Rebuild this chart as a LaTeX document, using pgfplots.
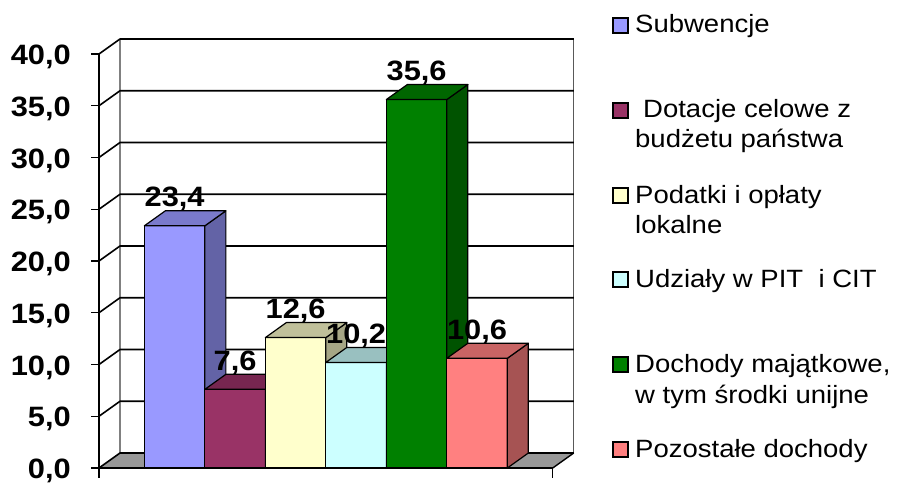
\documentclass[border=0pt]{standalone}
\usepackage{pgfplots}
\pgfplotsset{compat=1.18}
\usepackage{fontspec}
\setmainfont{Liberation Sans}[FakeStretch=1.1]

\definecolor{c1}{HTML}{9999FF}\definecolor{c1s}{HTML}{6363A6}\definecolor{c1t}{HTML}{7A7ACC}
\definecolor{c2}{HTML}{993366}\definecolor{c2s}{HTML}{63213F}\definecolor{c2t}{HTML}{772650}
\definecolor{c3}{HTML}{FFFFCC}\definecolor{c3s}{HTML}{A6A685}\definecolor{c3t}{HTML}{C0C09A}
\definecolor{c4}{HTML}{CCFFFF}\definecolor{c4s}{HTML}{85A6A6}\definecolor{c4t}{HTML}{99C0C0}
\definecolor{c5}{HTML}{008000}\definecolor{c5s}{HTML}{005300}\definecolor{c5t}{HTML}{006600}
\definecolor{c6}{HTML}{FF8080}\definecolor{c6s}{HTML}{A65353}\definecolor{c6t}{HTML}{C86464}
\definecolor{floorgray}{HTML}{989898}

\def\dx{0.347}
\def\dy{1.45}
\newcommand\tdbar[3]{%
  \pgfmathsetmacro\bxa{#1-0.5}%
  \pgfmathsetmacro\bxb{#1+0.5}%
  \pgfmathsetmacro\bxc{#1+0.5+\dx}%
  \pgfmathsetmacro\bxd{#1-0.5+\dx}%
  \pgfmathsetmacro\byt{#2+\dy}%
  \addplot[fill=#3, draw=black, line width=1.2pt, line join=round] coordinates {(\bxa,0) (\bxb,0) (\bxb,#2) (\bxa,#2)} -- cycle;
  \addplot[fill=#3s, draw=black, line width=1.2pt, line join=round] coordinates {(\bxb,0) (\bxc,\dy) (\bxc,\byt) (\bxb,#2)} -- cycle;
  \addplot[fill=#3t, draw=black, line width=1.2pt, line join=round] coordinates {(\bxa,#2) (\bxb,#2) (\bxc,\byt) (\bxd,\byt)} -- cycle;
}
\pgfkeys{/pgf/number format/.cd, fixed, fixed zerofill, precision=1, use comma, assume math mode=true}
\newcommand\lfont{\fontsize{25}{25}\selectfont}

\begin{document}
\begin{tikzpicture}
\useasboundingbox (-99pt,-15pt) rectangle (798pt,468pt);
\begin{axis}[
  scale only axis,
  width=474.7pt, height=429pt,
  xmin=-0.25, xmax=7.597,
  ymin=0, ymax=41.45,
  clip=false,
  axis line style={draw=none},
  tick style={draw=none},
  xtick=\empty,
  ytick={0,5,...,40},
  yticklabel style={font=\bfseries\fontsize{28}{28}\selectfont, anchor=base east, inner sep=0pt, xshift=-28pt, yshift=-10.5pt},
]
% floor
\fill[floorgray] (axis cs:-0.25,0) -- (axis cs:7.25,0) -- (axis cs:7.597,1.45) -- (axis cs:0.097,1.45) -- cycle;
% back wall verticals
\draw[gray, line width=1.5pt] (axis cs:0.097,1.45) -- (axis cs:0.097,41.45);
\draw[gray!70!black, line width=1.5pt] (axis cs:7.597,1.45) -- (axis cs:7.597,41.45);
% gridlines
\pgfplotsinvokeforeach{0,5,...,40}{
  \draw[line width=1.6pt, line join=round] (axis cs:-0.25,#1) -- ++(21pt,15pt) -- ++(453.75pt,0pt);
  \draw[line width=1.3pt] (axis cs:-0.25,#1) -- ++(-8pt,0pt);
}
\draw[line width=1.4pt] (axis cs:7.25,0) -- (axis cs:7.597,1.45);
% bars
\tdbar{1}{23.4}{c1}
\tdbar{2}{7.6}{c2}
\tdbar{3}{12.6}{c3}
\tdbar{4}{10.2}{c4}
\tdbar{5}{35.6}{c5}
\tdbar{6}{10.6}{c6}
% front axes
\draw[line width=1.5pt] (axis cs:-0.25,40) -- (axis cs:-0.25,0) -- (axis cs:7.25,0);
\draw[line width=1.3pt] (axis cs:-0.25,0) -- ++(0pt,-10pt);
\draw[line width=1.3pt] (axis cs:7.25,0) -- ++(0pt,-10pt);
% labels
\addplot[draw=none, mark=none, nodes near coords, point meta=y,
  nodes near coords style={font=\bfseries\fontsize{28}{28}\selectfont, anchor=base, inner sep=0pt, yshift=19pt}]
  coordinates {(1,23.4) (2,7.6) (3,12.6) (4,10.2) (5,35.6) (6,10.6)};
\end{axis}
\begin{scope}[x=1pt, y=-1pt, shift={(-99pt,468pt)}]
  \tikzset{sq/.style={line width=1.2pt, draw=black}, lt/.style={anchor=base west, inner sep=0pt, font=\lfont}}
  \draw[sq, fill=c1] (613,18) rectangle (628,33);
  \node[lt] at (635,33) {Subwencje};
  \draw[sq, fill=c2] (613,103) rectangle (628,118);
  \node[lt] at (643,118) {Dotacje celowe z};
  \node[lt] at (635,148) {budżetu państwa};
  \draw[sq, fill=c3] (613,188) rectangle (628,203);
  \node[lt] at (635,203) {Podatki i opłaty};
  \node[lt] at (635,233) {lokalne};
  \draw[sq, fill=c4] (613,272) rectangle (628,287);
  \node[lt] at (635,287) {Udziały w PIT\ \ i CIT};
  \draw[sq, fill=c5] (613,357) rectangle (628,372);
  \node[lt] at (635,372) {Dochody majątkowe,};
  \node[lt] at (635,403) {w tym środki unijne};
  \draw[sq, fill=c6] (613,442) rectangle (628,457);
  \node[lt] at (635,457) {Pozostałe dochody};
\end{scope}
\end{tikzpicture}
\end{document}
